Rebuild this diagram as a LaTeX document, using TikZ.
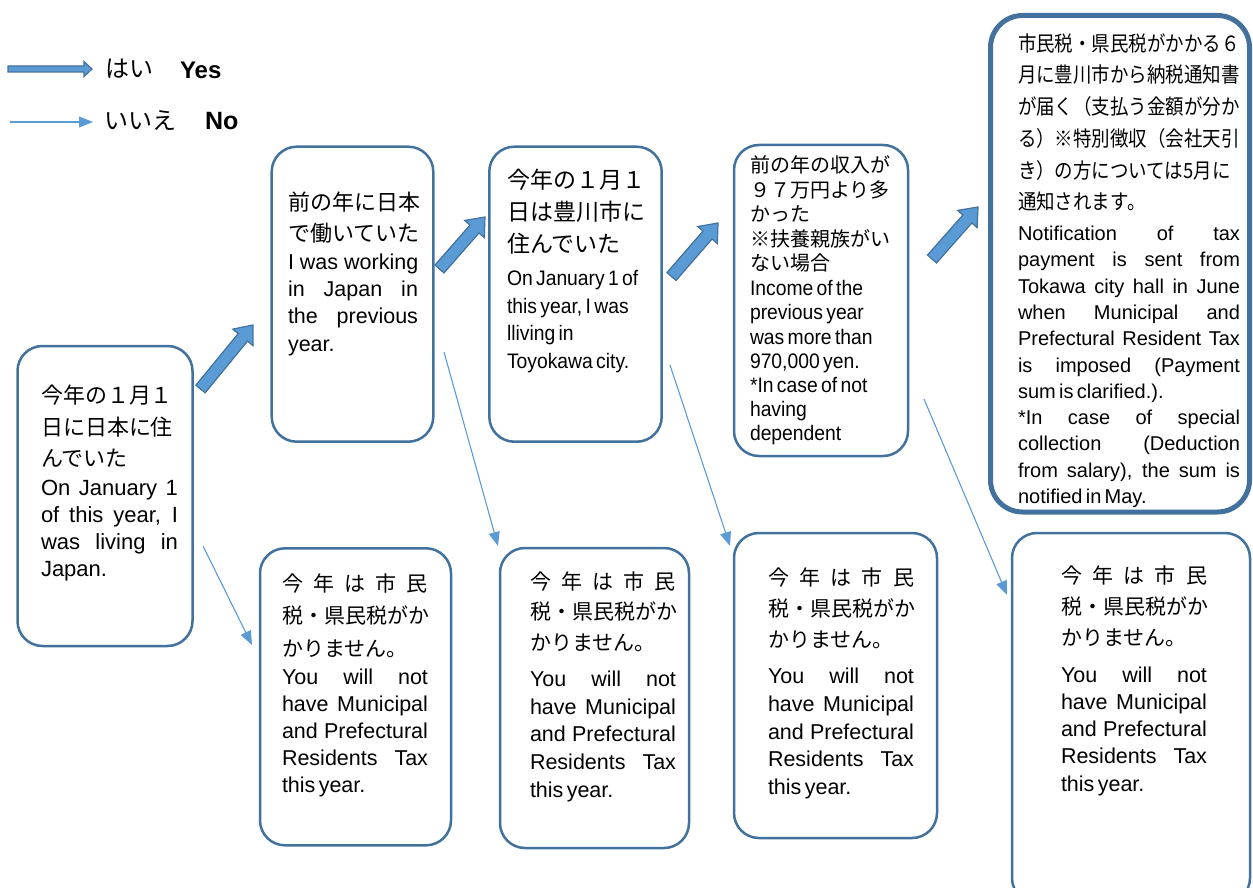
\documentclass[tikz,border=0pt]{standalone}
\usepackage{fontspec}
\setmainfont{Liberation Sans}
\newfontfamily\jpf{Noto Sans CJK JP}
\newfontfamily\jpnf{Noto Sans CJK JP}[FakeStretch=0.88]
\newfontfamily\ennf{Liberation Sans}[FakeStretch=0.92]
\usetikzlibrary{arrows.meta,calc}
\definecolor{bord}{HTML}{41719C}
\definecolor{accent}{HTML}{5B9BD5}
\newcommand\tw{100pt}
\newcommand\jl[1]{\makebox[\tw][s]{\spaceskip=.278em plus 1fil\relax #1}}
\newcommand\blockarrow[6]{%
  \coordinate (#1n) at ($(#3)!#6!(#2)$);
  \path[yesarrow] ($(#2)!#4!90:(#3)$) -- ($(#1n)!#4!90:(#3)$) -- ($(#1n)!#5!90:(#3)$) -- (#3) -- ($(#1n)!#5!-90:(#3)$) -- ($(#1n)!#4!-90:(#3)$) -- ($(#2)!#4!-90:(#3)$) -- cycle;}
\tikzset{
  box/.style={rectangle, draw=bord, line width=2.5pt, rounded corners=25pt, fill=white, inner sep=0pt, outer sep=0pt, anchor=north west},
  finalbox/.style={box, line width=5pt, rounded corners=32pt},
  txt/.style={anchor=north west, inner sep=0pt, outer sep=0pt, align=left, text width=#1},
  noarrow/.style={draw=accent, line width=1.1pt, -{Triangle[length=14pt,width=11pt]}},
  yesarrow/.style={fill=accent, draw=bord, line width=1.2pt, line join=miter},
  legend/.style={anchor=base west, inner sep=0pt, outer sep=0pt}
}
\begin{document}
\begin{tikzpicture}[x=1pt,y=-1pt]
\useasboundingbox (0,0) rectangle (1253,888);

% boxes
\node[box, minimum width=175pt, minimum height=300pt] (b1) at (17.5,346) {};
\node[box, minimum width=161.6pt, minimum height=295pt] (b2) at (271.7,146.7) {};
\node[box, minimum width=172.4pt, minimum height=295pt] (b3) at (489.3,146.7) {};
\node[box, minimum width=174pt, minimum height=311pt] (b4) at (734,145) {};
\node[finalbox, minimum width=259pt, minimum height=496.5pt] (b5) at (990.5,15.5) {};
\node[box, minimum width=191pt, minimum height=297pt] (c2) at (260,548.3) {};
\node[box, minimum width=189pt, minimum height=300pt] (c3) at (500,548) {};
\node[box, minimum width=203pt, minimum height=305pt] (c4) at (734,533) {};
\node[box, minimum width=238pt, minimum height=370pt] (c5) at (1012,533) {};

% texts
\node[txt=137pt] (t1) at (41,381.4) {\renewcommand\tw{137pt}\jpf\fontsize{22}{31.7}\selectfont\rule{0pt}{22pt}今年の１月１\\日に日本に住\\んでいた\par\vspace{1.3pt}\rmfamily\fontsize{22}{27.2}\selectfont\jl{On January 1}\\\jl{of this year, I}\\\jl{was living in}\\Japan.\par};

\node[txt=130pt] (t2) at (288,188.1) {\renewcommand\tw{130pt}\jpf\fontsize{22}{31.6}\selectfont\rule{0pt}{22pt}前の年に日本\\で働いていた\par\rmfamily\fontsize{21.5}{27.4}\selectfont\jl{I was working}\\\jl{in Japan in}\\\jl{the previous}\\year.\par};

\node[txt=142pt] (t3) at (507,165.7) {\jpf\fontsize{23}{31.7}\selectfont\rule{0pt}{23pt}今年の１月１\\日は豊川市に\\住んでいた\par\vspace{6.3pt}\ennf\fontsize{21}{27.5}\selectfont On January 1 of\\this year, I was\\lliving in\\Toyokawa city.\par};

\node[txt=140pt] (t4) at (750,152.6) {\jpf\fontsize{20}{24.6}\selectfont\rule{0pt}{20pt}前の年の収入が\\９７万円より多\\かった\\※扶養親族がい\\ない場合\par\vspace{0.8pt}\ennf\fontsize{21}{24.1}\selectfont Income of the\\previous year\\was more than\\970,000 yen.\\{}*In case of not\\having\\dependent\par};

\node[txt=222pt] (t5) at (1018,30.3) {\renewcommand\tw{222pt}\jpnf\fontsize{21}{31.7}\selectfont\rule{0pt}{21pt}市民税・県民税がかかる６\\月に豊川市から納税通知書\\が届く（支払う金額が分か\\る）※特別徴収（会社天引\\き）の方については5月に\\通知されます。\par\vspace{4.5pt}\rmfamily\fontsize{20}{26.3}\selectfont\jl{Notification of tax}\\\jl{payment is sent from}\\\jl{Tokawa city hall in June}\\\jl{when Municipal and}\\\jl{Prefectural Resident Tax}\\\jl{is imposed (Payment}\\sum is clarified.).\\\jl{*In case of special}\\\jl{collection (Deduction}\\\jl{from salary), the sum is}\\notified in May.\par};

\node[txt=146pt] (u2) at (282,570.3) {\renewcommand\tw{146pt}\jpf\fontsize{21}{32.5}\selectfont\rule{0pt}{21pt}\jl{今\hfill 年\hfill は\hfill 市\hfill 民}\\税・県民税がか\\かりません。\par\vspace{0.8pt}\rmfamily\fontsize{21.5}{27.1}\selectfont\jl{You will not}\\\jl{have Municipal}\\\jl{and Prefectural}\\\jl{Residents Tax}\\this year.\par};

\node[txt=146pt] (u3) at (530,568) {\renewcommand\tw{146pt}\jpf\fontsize{21}{30.5}\selectfont\rule{0pt}{21pt}\jl{今\hfill 年\hfill は\hfill 市\hfill 民}\\税・県民税がか\\かりません。\par\vspace{8.7pt}\rmfamily\fontsize{21.5}{27.75}\selectfont\jl{You will not}\\\jl{have Municipal}\\\jl{and Prefectural}\\\jl{Residents Tax}\\this year.\par};

\node[txt=146pt] (u4) at (768,564) {\renewcommand\tw{146pt}\jpf\fontsize{21}{31}\selectfont\rule{0pt}{21pt}\jl{今\hfill 年\hfill は\hfill 市\hfill 民}\\税・県民税がか\\かりません。\par\vspace{8.9pt}\rmfamily\fontsize{21.5}{27.75}\selectfont\jl{You will not}\\\jl{have Municipal}\\\jl{and Prefectural}\\\jl{Residents Tax}\\this year.\par};

\node[txt=146pt] (u5) at (1061,562) {\renewcommand\tw{146pt}\jpf\fontsize{21}{31.2}\selectfont\rule{0pt}{21pt}\jl{今\hfill 年\hfill は\hfill 市\hfill 民}\\税・県民税がか\\かりません。\par\vspace{10.1pt}\rmfamily\fontsize{21.5}{27.1}\selectfont\jl{You will not}\\\jl{have Municipal}\\\jl{and Prefectural}\\\jl{Residents Tax}\\this year.\par};

% yes block arrows
\coordinate (a1t) at (200.5,389); \coordinate (a1h) at (253,325);
\coordinate (a2t) at (439.5,269); \coordinate (a2h) at (485,217);
\coordinate (a3t) at (671.5,276.5); \coordinate (a3h) at (718,223);
\coordinate (a4t) at (932,259); \coordinate (a4h) at (978,207);
\blockarrow{a1}{a1t}{a1h}{6pt}{13pt}{16pt}
\blockarrow{a2}{a2t}{a2h}{6pt}{13pt}{16pt}
\blockarrow{a3}{a3t}{a3h}{6pt}{13pt}{16pt}
\blockarrow{a4}{a4t}{a4h}{6pt}{13pt}{16pt}

% no arrows
\coordinate (n1t) at (203,546); \coordinate (n1h) at (252,645);
\coordinate (n2t) at (444,352); \coordinate (n2h) at (498,546);
\coordinate (n3t) at (670,365); \coordinate (n3h) at (730,546);
\coordinate (n4t) at (924,399); \coordinate (n4h) at (1007,595);
\draw[noarrow] (n1t) -- (n1h);
\draw[noarrow] (n2t) -- (n2h);
\draw[noarrow] (n3t) -- (n3h);
\draw[noarrow] (n4t) -- (n4h);

% legend
\coordinate (lyt) at (8,69); \coordinate (lyh) at (92,69);
\blockarrow{ly}{lyt}{lyh}{3pt}{7.5pt}{8pt}
\coordinate (lnt) at (10,122); \coordinate (lnh) at (93,122);
\draw[noarrow] (lnt) -- (lnh);
\node[legend] (lyj) at (105,78) {\jpf\fontsize{24}{24}\selectfont はい};
\node[legend] (lye) at (180,78.3) {\fontsize{24}{24}\selectfont\bfseries Yes};
\node[legend] (lnj) at (104,130) {\jpf\fontsize{24}{24}\selectfont いいえ};
\node[legend] (lne) at (205,130) {\fontsize{25}{25}\selectfont\bfseries No};
\end{tikzpicture}
\end{document}
